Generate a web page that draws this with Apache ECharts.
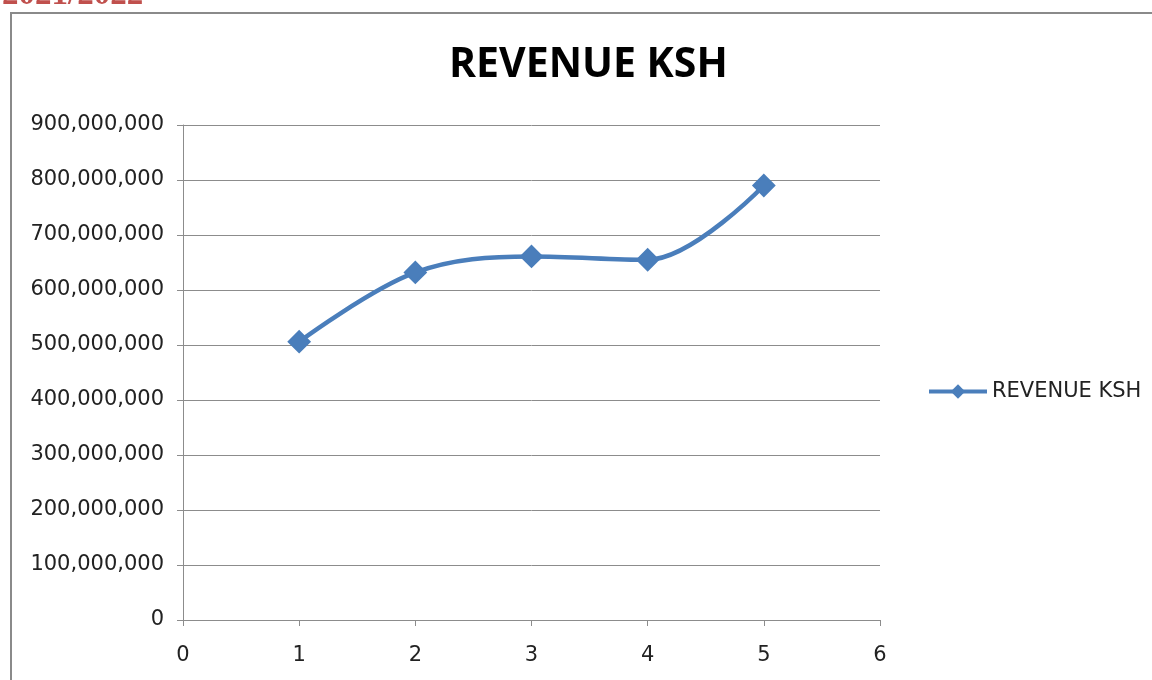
<!DOCTYPE html>
<html>
<head>
<meta charset="utf-8">
<script src="https://cdn.jsdelivr.net/npm/echarts@6/dist/echarts.min.js"></script>
<style>
html, body { margin: 0; padding: 0; background: #fff; }
#box1 { width: 1152px; height: 680px; }
</style>
</head>
<body>
<div id="box1"></div>
<script>
/* revenue chart */
var periods = [1, 2, 3, 4, 5];
var revenue = [506000000, 632000000, 661000000, 655000000, 790000000];
var seriesName = 'REVENUE KSH';

var dom = document.getElementById("box1");
var myChart = echarts.init(dom);
var fontFam = '"DejaVu Sans", sans-serif';

var points = [];
for (var i = 0; i < periods.length; i++) {
    points.push([periods[i], revenue[i]]);
}

option = {
    animation: false,
    textStyle: { fontFamily: fontFam },
    graphic: [
        {
            type: 'rect',
            shape: { x: 11, y: 13, width: 1200, height: 720 },
            style: { fill: 'none', stroke: '#8a8a8a', lineWidth: 2 }
        },
        {
            type: 'text',
            x: 2,
            y: 12,
            style: {
                text: '2021/2022',
                fill: '#c0504d',
                verticalAlign: 'bottom',
                font: 'bold 33px "Liberation Serif", serif'
            }
        }
    ],
    title: {
        text: 'REVENUE KSH',
        left: 444,
        top: 40,
        textStyle: { fontSize: 41, fontWeight: 'bold', color: '#000', fontFamily: '"Open Sans", sans-serif' }
    },
    legend: {
        orient: 'vertical',
        left: 922,
        top: 376,
        itemWidth: 58,
        itemHeight: 18,
        itemGap: 4,
        lineStyle: { width: 4 },
        itemStyle: { borderWidth: 0 },
        textStyle: { fontSize: 21, color: '#222', fontFamily: fontFam },
        data: [{ name: seriesName }]
    },
    grid: { left: 183, right: 272, top: 125, bottom: 60 },
    xAxis: {
        type: 'value',
        min: 0,
        max: 6,
        interval: 1,
        axisLine: { lineStyle: { color: '#8c8c8c', width: 1 } },
        axisTick: { show: true, length: 6, lineStyle: { color: '#8c8c8c' } },
        axisLabel: { fontSize: 21, color: '#222', margin: 25 },
        splitLine: { show: false }
    },
    yAxis: {
        type: 'value',
        min: 0,
        max: 900000000,
        interval: 100000000,
        axisLine: { show: true, lineStyle: { color: '#8c8c8c', width: 1 } },
        axisTick: { show: true, length: 6, lineStyle: { color: '#8c8c8c' } },
        axisLabel: {
            fontSize: 21,
            color: '#222',
            margin: 19,
            formatter: function (v) { return v.toLocaleString('en-US'); }
        },
        splitLine: { lineStyle: { color: '#8c8c8c', width: 1 } }
    },
    series: [
        {
            name: seriesName,
            type: 'line',
            data: points,
            smooth: 0.35,
            symbol: 'diamond',
            symbolSize: 21,
            lineStyle: { color: '#4a7ebb', width: 4.5 },
            itemStyle: { color: '#4a7ebb', borderColor: '#4a7ebb', borderWidth: 2 }
        }
    ]
};

if (option && typeof option === "object") {
    myChart.setOption(option, true);
}
</script>
</body>
</html>
